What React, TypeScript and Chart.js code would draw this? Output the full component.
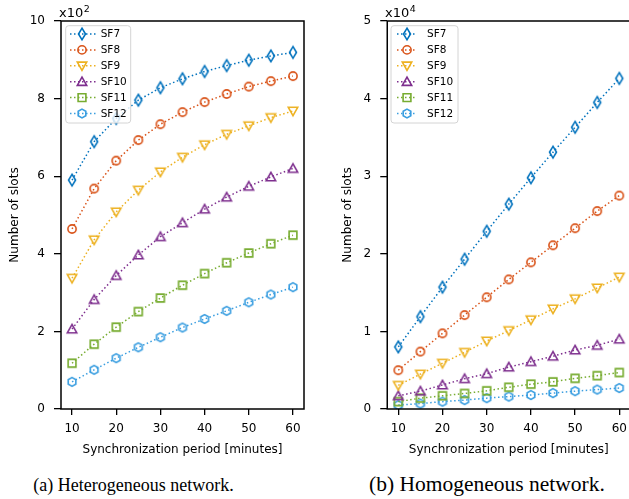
import React, { useEffect, useRef } from "react";
import { Chart, registerables } from "chart.js";

Chart.register(...registerables);

// ---------- data ----------
const periods = [10, 15, 20, 25, 30, 35, 40, 45, 50, 55, 60];
const xTickValues = [10, 20, 30, 40, 50, 60];
const hetYTicks = [0, 2, 4, 6, 8, 10];
const homYTicks = [0, 1, 2, 3, 4, 5];
const hetExponent = "2";
const homExponent = "4";
const seriesNames = ["SF7", "SF8", "SF9", "SF10", "SF11", "SF12"];
const seriesColors = ["#0072BD", "#D95319", "#EDB120", "#7E2F8E", "#77AC30", "#3A9EE0"];

// Heterogeneous network (x10^2 slots)
const hetSF7 = [5.9, 6.89, 7.49, 7.96, 8.28, 8.51, 8.7, 8.85, 8.99, 9.1, 9.19];
const hetSF8 = [4.64, 5.68, 6.4, 6.93, 7.34, 7.65, 7.91, 8.12, 8.31, 8.45, 8.58];
const hetSF9 = [3.37, 4.36, 5.08, 5.64, 6.11, 6.49, 6.81, 7.08, 7.3, 7.51, 7.68];
const hetSF10 = [2.06, 2.82, 3.44, 3.97, 4.44, 4.8, 5.15, 5.46, 5.74, 5.98, 6.2];
const hetSF11 = [1.18, 1.67, 2.11, 2.51, 2.86, 3.19, 3.49, 3.77, 4.02, 4.26, 4.48];
const hetSF12 = [0.7, 1.01, 1.31, 1.59, 1.85, 2.1, 2.32, 2.53, 2.75, 2.95, 3.14];

// Homogeneous network (x10^4 slots)
const homSF7 = [0.8, 1.19, 1.57, 1.93, 2.29, 2.64, 2.98, 3.31, 3.63, 3.95, 4.26];
const homSF8 = [0.5, 0.74, 0.975, 1.21, 1.44, 1.67, 1.89, 2.11, 2.33, 2.55, 2.75];
const homSF9 = [0.305, 0.45, 0.59, 0.73, 0.876, 1.01, 1.15, 1.29, 1.42, 1.56, 1.7];
const homSF10 = [0.17, 0.23, 0.31, 0.39, 0.455, 0.54, 0.61, 0.68, 0.76, 0.82, 0.9];
const homSF11 = [0.095, 0.14, 0.17, 0.2, 0.235, 0.28, 0.32, 0.35, 0.395, 0.43, 0.47];
const homSF12 = [0.05, 0.07, 0.095, 0.115, 0.14, 0.16, 0.18, 0.205, 0.23, 0.25, 0.27];

const hetSeries = [hetSF7, hetSF8, hetSF9, hetSF10, hetSF11, hetSF12];
const homSeries = [homSF7, homSF8, homSF9, homSF10, homSF11, homSF12];

type Shape = "thinDiamond" | "circle" | "triDown" | "triUp" | "square" | "hexagon";
const seriesShapes: Shape[] = ["thinDiamond", "circle", "triDown", "triUp", "square", "hexagon"];

const FONT = "'DejaVu Sans', sans-serif";
const DASH = [1.5, 2.5];

function traceMarker(ctx: CanvasRenderingContext2D, shape: Shape, cx: number, cy: number) {
  ctx.beginPath();
  switch (shape) {
    case "thinDiamond":
      ctx.moveTo(cx, cy - 5.8);
      ctx.lineTo(cx + 3.5, cy);
      ctx.lineTo(cx, cy + 5.8);
      ctx.lineTo(cx - 3.5, cy);
      ctx.closePath();
      break;
    case "circle":
      ctx.arc(cx, cy, 4.1, 0, Math.PI * 2);
      break;
    case "triDown":
      ctx.moveTo(cx - 4.7, cy - 3.7);
      ctx.lineTo(cx + 4.7, cy - 3.7);
      ctx.lineTo(cx, cy + 4.6);
      ctx.closePath();
      break;
    case "triUp":
      ctx.moveTo(cx - 4.7, cy + 3.7);
      ctx.lineTo(cx + 4.7, cy + 3.7);
      ctx.lineTo(cx, cy - 4.6);
      ctx.closePath();
      break;
    case "square":
      ctx.rect(cx - 3.9, cy - 3.9, 7.8, 7.8);
      break;
    case "hexagon":
      for (let k = 0; k < 6; k++) {
        const a = -Math.PI / 2 + (k * Math.PI) / 3;
        const px = cx + 4.4 * Math.cos(a);
        const py = cy + 4.4 * Math.sin(a);
        if (k === 0) ctx.moveTo(px, py);
        else ctx.lineTo(px, py);
      }
      ctx.closePath();
      break;
  }
}

function drawMarker(ctx: CanvasRenderingContext2D, shape: Shape, cx: number, cy: number, color: string) {
  ctx.save();
  ctx.setLineDash([]);
  ctx.lineWidth = 1.6;
  ctx.strokeStyle = color;
  ctx.lineJoin = "miter";
  traceMarker(ctx, shape, cx, cy);
  ctx.stroke();
  ctx.restore();
}

function makeMarkerCanvas(shape: Shape, color: string) {
  const c = document.createElement("canvas");
  c.width = 16;
  c.height = 16;
  const ctx = c.getContext("2d")!;
  drawMarker(ctx, shape, 8, 8, color);
  return c;
}

type LegendLayout = {
  x: number; y: number; w: number; h: number;
  lineX0: number; lineX1: number; markerX: number; textX: number;
  rowY0: number; rowGap: number;
};

type DecorOpts = {
  expX: number; expY: number; exponent: string; legend: LegendLayout;
};

const decorPlugin = {
  id: "decor",
  afterDatasetsDraw(chart: any, _args: any, opts: DecorOpts) {
    const { ctx, chartArea: a } = chart;
    ctx.save();
    // frame (spines)
    ctx.setLineDash([]);
    ctx.strokeStyle = "#000";
    ctx.lineWidth = 1.5;
    ctx.strokeRect(a.left, a.top, a.right - a.left, a.bottom - a.top);
    // offset text
    ctx.fillStyle = "#000";
    ctx.textAlign = "left";
    ctx.textBaseline = "alphabetic";
    ctx.font = `13px ${FONT}`;
    ctx.fillText("x10", opts.expX, opts.expY);
    const w = ctx.measureText("x10").width;
    ctx.font = `9.5px ${FONT}`;
    ctx.fillText(opts.exponent, opts.expX + w + 0.5, opts.expY - 5.5);
    // legend
    const L = opts.legend;
    const r = 3;
    ctx.beginPath();
    ctx.moveTo(L.x + r, L.y);
    ctx.lineTo(L.x + L.w - r, L.y);
    ctx.arcTo(L.x + L.w, L.y, L.x + L.w, L.y + r, r);
    ctx.lineTo(L.x + L.w, L.y + L.h - r);
    ctx.arcTo(L.x + L.w, L.y + L.h, L.x + L.w - r, L.y + L.h, r);
    ctx.lineTo(L.x + r, L.y + L.h);
    ctx.arcTo(L.x, L.y + L.h, L.x, L.y + L.h - r, r);
    ctx.lineTo(L.x, L.y + r);
    ctx.arcTo(L.x, L.y, L.x + r, L.y, r);
    ctx.closePath();
    ctx.fillStyle = "rgba(255,255,255,0.8)";
    ctx.fill();
    ctx.strokeStyle = "#d4d4d4";
    ctx.lineWidth = 1;
    ctx.stroke();
    seriesNames.forEach((name, i) => {
      const y = L.rowY0 + i * L.rowGap;
      ctx.save();
      ctx.strokeStyle = seriesColors[i];
      ctx.lineWidth = 1.5;
      ctx.setLineDash(DASH);
      ctx.beginPath();
      ctx.moveTo(L.lineX0, y);
      ctx.lineTo(L.lineX1, y);
      ctx.stroke();
      ctx.restore();
      drawMarker(ctx, seriesShapes[i], L.markerX, y, seriesColors[i]);
      ctx.fillStyle = "#000";
      ctx.font = `10.5px ${FONT}`;
      ctx.textBaseline = "middle";
      ctx.textAlign = "left";
      ctx.fillText(name, L.textX, y + 0.5);
    });
    ctx.restore();
  },
};

type PanelParams = {
  series: number[][];
  yTicks: number[];
  yWidth: number;
  yTitlePad: number;
  padRight: number;
  decor: DecorOpts;
};

function buildConfig(p: PanelParams): any {
  const datasets = p.series.map((vals, i) => ({
    label: seriesNames[i],
    data: periods.map((x, k) => ({ x, y: vals[k] })),
    borderColor: seriesColors[i],
    backgroundColor: "transparent",
    borderWidth: 1.5,
    borderDash: DASH,
    borderCapStyle: "butt",
    pointStyle: makeMarkerCanvas(seriesShapes[i], seriesColors[i]),
    pointRadius: 5,
    fill: false,
    tension: 0,
  }));
  const tickFont = { family: FONT, size: 12 };
  return {
    type: "line",
    data: { datasets },
    options: {
      animation: false,
      responsive: false,
      maintainAspectRatio: false,
      layout: { padding: { left: 0, top: 21, right: p.padRight, bottom: 0 } },
      plugins: {
        legend: { display: false },
        tooltip: { enabled: false },
        decor: p.decor,
      },
      scales: {
        x: {
          type: "linear",
          min: 7.5,
          max: 62.5,
          afterBuildTicks: (s: any) => {
            s.ticks = xTickValues.map((v) => ({ value: v }));
          },
          afterFit: (s: any) => {
            s.height = 61;
          },
          ticks: { font: tickFont, color: "#000", padding: 7, maxRotation: 0, autoSkip: false },
          grid: { drawOnChartArea: false, drawTicks: true, tickLength: 6, color: "#000", lineWidth: 1.3 },
          border: { display: false },
          title: {
            display: true,
            text: "Synchronization period [minutes]",
            font: tickFont,
            color: "#000",
            padding: { top: 0, bottom: 13 },
          },
        },
        y: {
          type: "linear",
          min: p.yTicks[0],
          max: p.yTicks[p.yTicks.length - 1],
          afterBuildTicks: (s: any) => {
            s.ticks = p.yTicks.map((v) => ({ value: v }));
          },
          afterFit: (s: any) => {
            s.width = p.yWidth;
          },
          ticks: { font: tickFont, color: "#000", padding: 9 },
          grid: { drawOnChartArea: false, drawTicks: true, tickLength: 7, color: "#000", lineWidth: 1.3 },
          border: { display: false },
          title: {
            display: true,
            text: "Number of slots",
            font: tickFont,
            color: "#000",
            padding: { top: p.yTitlePad, bottom: 0 },
          },
        },
      },
    },
    plugins: [decorPlugin],
  };
}

export default function App() {
  const leftRef = useRef<HTMLCanvasElement>(null);
  const rightRef = useRef<HTMLCanvasElement>(null);

  useEffect(() => {
    const c1 = new Chart(
      leftRef.current!,
      buildConfig({
        series: hetSeries,
        yTicks: hetYTicks,
        yWidth: 61,
        yTitlePad: 7.5,
        padRight: 16,
        decor: {
          expX: 59,
          expY: 17,
          exponent: hetExponent,
          legend: { x: 65.7, y: 25.7, w: 65, h: 97.3, lineX0: 70, lineX1: 96, markerX: 82, textX: 100.7, rowY0: 34, rowGap: 15.9 },
        },
      })
    );
    const c2 = new Chart(
      rightRef.current!,
      buildConfig({
        series: homSeries,
        yTicks: homYTicks,
        yWidth: 67.25,
        yTitlePad: 20.3,
        padRight: 9.65,
        decor: {
          expX: 65,
          expY: 17,
          exponent: homExponent,
          legend: { x: 71, y: 25.7, w: 67, h: 97.3, lineX0: 77, lineX1: 97, markerX: 87, textX: 107, rowY0: 34, rowGap: 15.9 },
        },
      })
    );
    return () => {
      c1.destroy();
      c2.destroy();
    };
  }, []);

  const captionBase: React.CSSProperties = {
    position: "absolute",
    fontFamily: "'Liberation Serif', 'Times New Roman', serif",
    whiteSpace: "nowrap",
    textAlign: "center",
    color: "#000",
  };

  return (
    <div
      style={{
        position: "absolute",
        left: 0,
        top: 0,
        width: 629,
        height: 499,
        overflow: "hidden",
        background: "#fff",
      }}
    >
      <canvas ref={leftRef} width={320} height={470} style={{ position: "absolute", left: 0, top: 0, width: 320, height: 470 }} />
      <canvas ref={rightRef} width={320} height={470} style={{ position: "absolute", left: 320, top: 0, width: 320, height: 470 }} />
      <div style={{ ...captionBase, left: 0, width: 267, top: 476, fontSize: 18, lineHeight: "18px" }}>
        (a) Heterogeneous network.
      </div>
      <div style={{ ...captionBase, left: 369, top: 474, fontSize: 21.5, lineHeight: "21.5px" }}>
        (b) Homogeneous network.
      </div>
    </div>
  );
}
